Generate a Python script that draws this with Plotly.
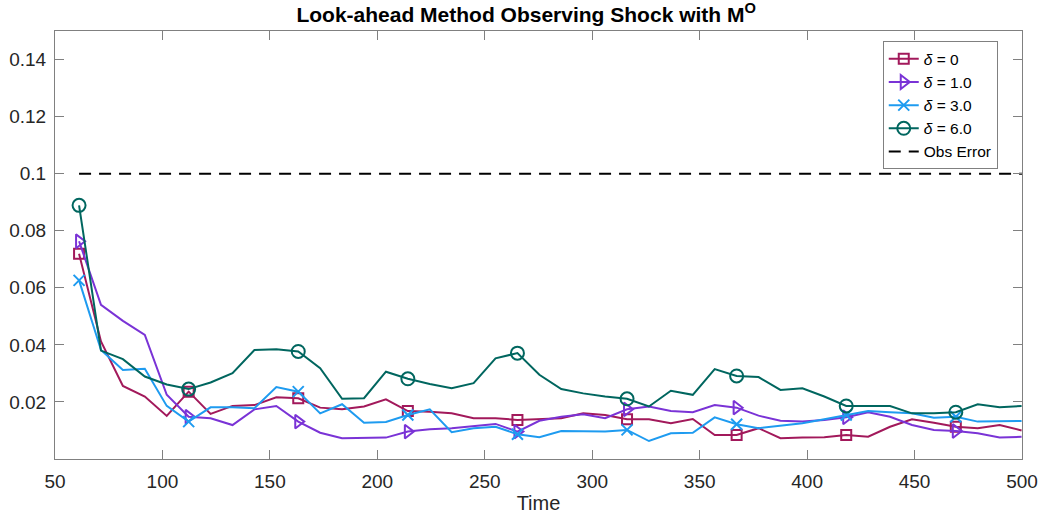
import plotly.graph_objects as go

# Sample times
time = [61.2, 71.4, 81.6, 91.8, 102.0, 112.2, 122.4, 132.6, 142.8, 153.0,
        163.2, 173.4, 183.6, 193.8, 204.0, 214.2, 224.4, 234.6, 244.8, 255.0,
        265.2, 275.4, 285.6, 295.8, 306.0, 316.2, 326.4, 336.6, 346.8, 357.0,
        367.2, 377.4, 387.6, 397.8, 408.0, 418.2, 428.4, 438.6, 448.8, 459.0,
        469.2, 479.4, 489.6, 499.8]

# Error for each look-ahead parameter delta
err_d0 = [0.0719, 0.0412, 0.0256, 0.0219, 0.0151, 0.0236, 0.0158, 0.0186, 0.0189, 0.0216,
          0.0213, 0.0180, 0.0174, 0.0184, 0.0209, 0.0168, 0.0166, 0.0160, 0.0143, 0.0143,
          0.0137, 0.0139, 0.0143, 0.0160, 0.0154, 0.0139, 0.0139, 0.0125, 0.0140, 0.0084,
          0.0084, 0.0108, 0.0073, 0.0075, 0.0076, 0.0084, 0.0078, 0.0113, 0.0139, 0.0127,
          0.0113, 0.0108, 0.0119, 0.0100]
err_d1 = [0.0763, 0.0540, 0.0484, 0.0435, 0.0225, 0.0148, 0.0143, 0.0119, 0.0174, 0.0186,
          0.0131, 0.0092, 0.0073, 0.0075, 0.0075, 0.0096, 0.0104, 0.0108, 0.0116, 0.0123,
          0.0096, 0.0134, 0.0148, 0.0157, 0.0143, 0.0174, 0.0184, 0.0168, 0.0164, 0.0189,
          0.0180, 0.0152, 0.0134, 0.0131, 0.0137, 0.0146, 0.0164, 0.0148, 0.0119, 0.0102,
          0.0098, 0.0090, 0.0075, 0.0078]
err_d3 = [0.0626, 0.0382, 0.0312, 0.0316, 0.0186, 0.0131, 0.0181, 0.0181, 0.0178, 0.0252,
          0.0236, 0.0160, 0.0192, 0.0127, 0.0130, 0.0154, 0.0174, 0.0094, 0.0108, 0.0113,
          0.0087, 0.0076, 0.0098, 0.0098, 0.0096, 0.0102, 0.0063, 0.0090, 0.0092, 0.0146,
          0.0122, 0.0108, 0.0116, 0.0125, 0.0139, 0.0154, 0.0168, 0.0164, 0.0160, 0.0145,
          0.0148, 0.0131, 0.0131, 0.0133]
err_d6 = [0.0889, 0.0380, 0.0350, 0.0289, 0.0261, 0.0245, 0.0268, 0.0301, 0.0382, 0.0385,
          0.0377, 0.0318, 0.0211, 0.0213, 0.0306, 0.0281, 0.0263, 0.0248, 0.0266, 0.0353,
          0.0371, 0.0295, 0.0245, 0.0230, 0.0219, 0.0211, 0.0184, 0.0239, 0.0225, 0.0315,
          0.0291, 0.0287, 0.0242, 0.0248, 0.0219, 0.0186, 0.0186, 0.0186, 0.0160, 0.0160,
          0.0164, 0.0192, 0.0181, 0.0186]
obs_error = 0.1

series_names = ["<i>δ</i> = 0", "<i>δ</i> = 1.0", "<i>δ</i> = 3.0", "<i>δ</i> = 6.0"]
series_vals = [err_d0, err_d1, err_d3, err_d6]
colors = ["#A2195B", "#7A33D6", "#1E9BF0", "#00665F"]
symbols = ["square-open", "triangle-right-open", "x-thin-open", "circle-open"]
msizes = [10, 12, 11, 13]

y_ticks = [0.02, 0.04, 0.06, 0.08, 0.1, 0.12, 0.14]
y_ticktext = ["0.02", "0.04", "0.06", "0.08", "0.1", "0.12", "0.14"]
x_ticks = [50, 100, 150, 200, 250, 300, 350, 400, 450, 500]

MARK_EVERY = 5

fig = go.Figure()
for name, vals, c, sym, ms in zip(series_names, series_vals, colors, symbols, msizes):
    fig.add_trace(go.Scatter(x=time, y=vals, mode="lines", showlegend=False,
                             line=dict(color=c, width=2)))
    fig.add_trace(go.Scatter(x=time[::MARK_EVERY], y=vals[::MARK_EVERY], mode="markers",
                             showlegend=False,
                             marker=dict(symbol=sym, size=ms, color=c,
                                         line=dict(color=c, width=2))))
    # legend entry
    fig.add_trace(go.Scatter(x=[None], y=[None], mode="lines+markers", name=name,
                             line=dict(color=c, width=2),
                             marker=dict(symbol=sym, size=ms, color=c,
                                         line=dict(color=c, width=2))))

fig.add_trace(go.Scatter(x=[time[0], 500], y=[obs_error, obs_error], mode="lines",
                         name="Obs Error",
                         line=dict(color="black", width=2, dash="12px,8px")))

axis_common = dict(showline=True, linecolor="#808080", linewidth=1, mirror="ticks",
                   ticks="inside", ticklen=9, tickcolor="#808080", showgrid=False,
                   zeroline=False, automargin=False,
                   tickfont=dict(size=19, color="#262626"))

fig.update_layout(
    width=1044, height=521,
    margin=dict(l=55, r=22, t=31, b=62),
    paper_bgcolor="white", plot_bgcolor="white",
    font=dict(family="Liberation Sans, Arial, sans-serif", color="#262626"),
    title=dict(text="<b>Look-ahead Method Observing Shock with M<sup>O</sup></b>",
               x=0.504, xanchor="center", y=0.972, yanchor="middle",
               font=dict(size=21, color="black"), automargin=False),
    xaxis=dict(range=[50, 500], tickvals=x_ticks, ticklabelstandoff=5,
               title=dict(text="Time", font=dict(size=20, color="#262626"), standoff=5),
               **axis_common),
    yaxis=dict(range=[0, 0.15], tickvals=y_ticks, ticktext=y_ticktext,
               ticklabelstandoff=4, **axis_common),
    legend=dict(x=0.856, y=0.976, xanchor="left", yanchor="top",
                bgcolor="white", bordercolor="#808080", borderwidth=1,
                font=dict(size=15.5, color="black"), tracegroupgap=0),
)

fig.write_html("out.html")
